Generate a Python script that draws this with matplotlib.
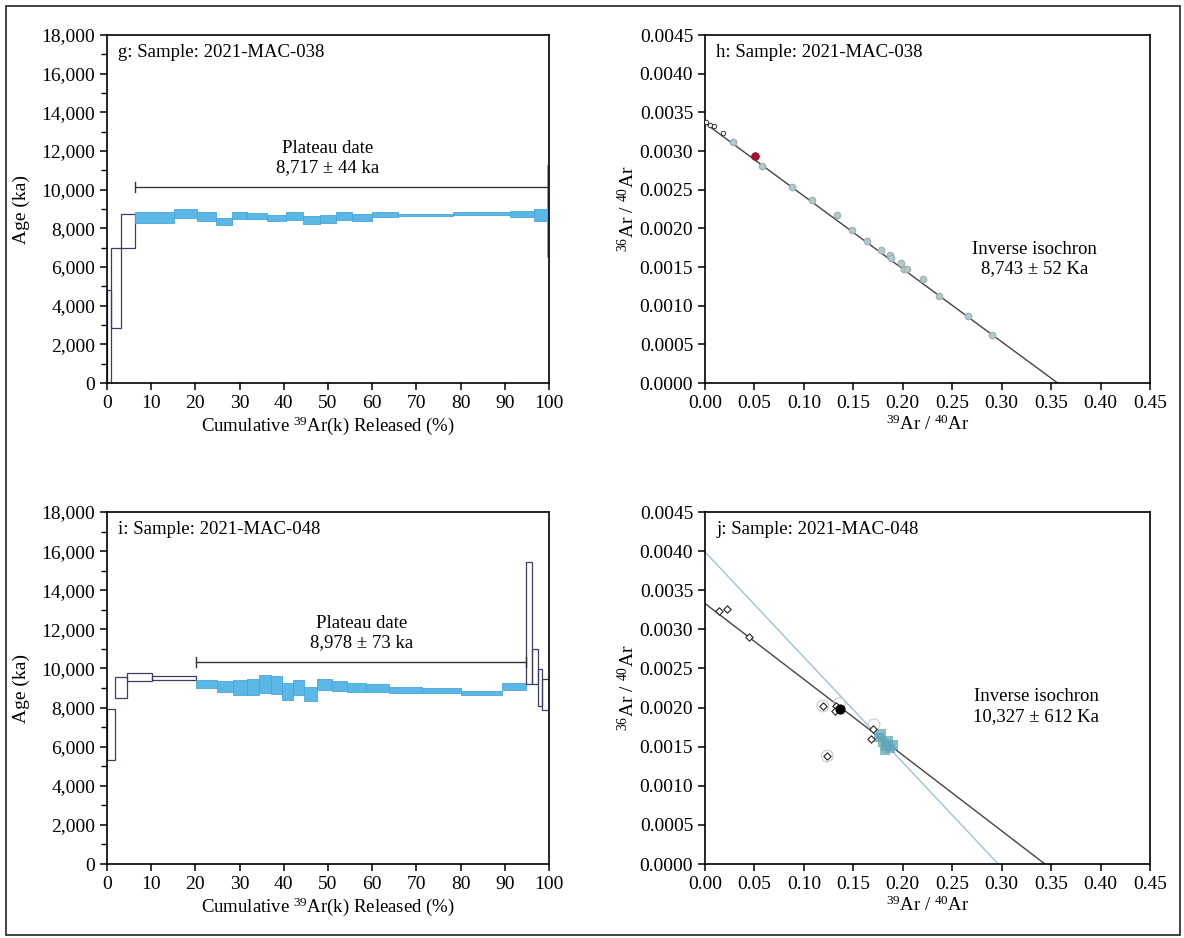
import matplotlib
matplotlib.use("Agg")
import matplotlib.pyplot as plt
from matplotlib.patches import Rectangle
import numpy as np

plt.rcParams['font.family'] = ['Liberation Serif', 'DejaVu Serif']
plt.rcParams['mathtext.fontset'] = 'custom'
plt.rcParams['mathtext.rm'] = 'Liberation Serif'
plt.rcParams['font.size'] = 13

# ---------------- Data ----------------
# Panel g: 2021-MAC-038 age spectrum (cumulative % edges, age low/high in ka)
g_left = [0.0, 1.0, 3.1, 6.3, 15.2, 20.3, 24.6, 28.2, 31.7, 36.1, 40.4, 44.3, 48.2, 51.7, 55.5, 59.9, 65.9, 78.3, 91.2, 96.7, 99.5]
g_right = [1.0, 3.1, 6.3, 15.2, 20.3, 24.6, 28.2, 31.7, 36.1, 40.4, 44.3, 48.2, 51.7, 55.5, 59.9, 65.9, 78.3, 91.2, 96.7, 99.5, 100.0]
g_lo = [0, 2860, 6960, 8290, 8550, 8360, 8150, 8480, 8460, 8360, 8420, 8230, 8300, 8450, 8380, 8580, 8640, 8700, 8600, 8400, 6500]
g_hi = [4800, 6960, 8720, 8825, 8980, 8825, 8550, 8860, 8800, 8700, 8830, 8650, 8700, 8850, 8740, 8860, 8760, 8820, 8880, 9000, 11300]
g_plateau = [False, False, False] + [True] * 18
g_plateau_range = [6.3, 100.0]
g_plateau_level = 10150
g_text = "Plateau date\n8,717 \u00b1 44 ka"

# Panel i: 2021-MAC-048 age spectrum
i_left = [0.0, 1.9, 4.6, 10.1, 20.1, 24.8, 28.6, 31.6, 34.5, 37.1, 39.5, 42.0, 44.6, 47.6, 50.8, 54.2, 58.6, 63.8, 71.2, 80.2, 89.3, 94.9, 96.1, 97.4, 98.5]
i_right = [1.9, 4.6, 10.1, 20.1, 24.8, 28.6, 31.6, 34.5, 37.1, 39.5, 42.0, 44.6, 47.6, 50.8, 54.2, 58.6, 63.8, 71.2, 80.2, 89.3, 94.9, 96.1, 97.4, 98.5, 100.0]
i_lo = [5300, 8510, 9370, 9400, 8980, 8800, 8640, 8640, 8750, 8690, 8380, 8640, 8330, 8890, 8850, 8800, 8770, 8750, 8720, 8640, 8890, 9230, 9230, 8090, 7870]
i_hi = [7950, 9570, 9790, 9620, 9400, 9350, 9400, 9450, 9690, 9600, 9280, 9400, 9060, 9450, 9350, 9280, 9230, 9060, 8980, 8850, 9260, 15450, 10990, 9990, 9450]
i_plateau = [False] * 4 + [True] * 17 + [False] * 4
i_plateau_range = [20.1, 94.9]
i_plateau_level = 10330
i_text = "Plateau date\n8,978 \u00b1 73 ka"

# Panel h: inverse isochron 2021-MAC-038
h_x_excl = [0.001, 0.005, 0.009, 0.018]
h_y_excl = [0.00338, 0.00334, 0.00332, 0.00323]
h_x = [0.028, 0.0576, 0.088, 0.1077, 0.133, 0.149, 0.164, 0.178, 0.187, 0.188, 0.198, 0.201, 0.204, 0.220, 0.237, 0.266, 0.290]
h_y = [0.00311, 0.00281, 0.00254, 0.00237, 0.00217, 0.00198, 0.00184, 0.00172, 0.00165, 0.00161, 0.00155, 0.00148, 0.00147, 0.00134, 0.00112, 0.00086, 0.00062]
h_red = [0.0508, 0.00293]
h_line_int = 0.00336
h_line_xint = 0.3566
h_text = "Inverse isochron\n8,743 \u00b1 52 Ka"

# Panel j: inverse isochron 2021-MAC-048
j_x_open = [0.0142, 0.0227, 0.044, 0.1192, 0.132, 0.1315, 0.1236, 0.170, 0.1676]
j_y_open = [0.00323, 0.00326, 0.00290, 0.00202, 0.00202, 0.00195, 0.00138, 0.00172, 0.00160]
j_x_ell = [0.1192, 0.1236, 0.136, 0.171]
j_y_ell = [0.00202, 0.00138, 0.00205, 0.00178]
j_black = [0.1365, 0.00198]
j_x_cl = [0.176, 0.180, 0.183, 0.185, 0.187, 0.190, 0.182, 0.178]
j_y_cl = [0.00162, 0.00155, 0.00150, 0.00158, 0.00148, 0.00152, 0.00145, 0.00166]
j_line1 = [0.00333, 0.3437]
j_line2 = [0.00399, 0.2965]
j_text = "Inverse isochron\n10,327 \u00b1 612 Ka"

pct_ticks = [0, 10, 20, 30, 40, 50, 60, 70, 80, 90, 100]
age_ticks = [0, 2000, 4000, 6000, 8000, 10000, 12000, 14000, 16000, 18000]
ratio_xticks = [0.0, 0.05, 0.10, 0.15, 0.20, 0.25, 0.30, 0.35, 0.40, 0.45]
ratio_yticks = [0.0, 0.0005, 0.0010, 0.0015, 0.0020, 0.0025, 0.0030, 0.0035, 0.0040, 0.0045]

W, H = 1184, 938
fig = plt.figure(figsize=(W / 100, H / 100), dpi=100)


def ax_px(l, t, r, b):
    return fig.add_axes([l / W, 1 - b / H, (r - l) / W, (b - t) / H])


def style(ax):
    for s in ax.spines.values():
        s.set_linewidth(1.2)
        s.set_color('black')
    ax.tick_params(direction='out', length=5, width=1.1, labelsize=14)
    ax.tick_params(which='minor', direction='out', length=4, width=1.0)


def spectrum(ax, left, right, lo, hi, plat, prange, plevel, txt, tx, title):
    for l, r, a, b, p in zip(left, right, lo, hi, plat):
        if p:
            ax.add_patch(Rectangle((l, a), r - l, b - a, facecolor='#5bb7e6',
                                   edgecolor='#4aa6d8', linewidth=0.6, zorder=2))
        else:
            ax.add_patch(Rectangle((l, a), r - l, b - a, facecolor='none',
                                   edgecolor='#3c3c64', linewidth=0.9, zorder=2))
    ax.plot(prange, [plevel, plevel], color='#333333', lw=1.0)
    ax.plot([prange[0], prange[0]], [plevel - 250, plevel + 250], color='#333333', lw=1.0)
    ax.plot([prange[1], prange[1]], [plevel - 250, plevel + 250], color='#333333', lw=1.0)
    ax.text(tx, plevel + 550, txt, ha='center', va='bottom', fontsize=13.5, linespacing=1.15)
    ax.set_xlim(0, 100)
    ax.set_ylim(0, 18000)
    ax.set_xticks(pct_ticks)
    ax.set_yticks(age_ticks)
    ax.set_yticklabels([f"{v:,}" for v in age_ticks])
    ax.set_yticks(np.arange(1000, 18000, 2000), minor=True)
    ax.set_xlabel(r'Cumulative $\mathregular{^{39}}$Ar(k) Released (%)', fontsize=13.5, labelpad=2)
    ax.set_ylabel('Age (ka)', fontsize=14, labelpad=8)
    ax.text(0.025, 0.975, title, transform=ax.transAxes, ha='left', va='top', fontsize=13.5)
    style(ax)


def iso_axes(ax, title):
    ax.set_xlim(0, 0.45)
    ax.set_ylim(0, 0.0045)
    ax.set_xticks(ratio_xticks)
    ax.set_xticklabels([f"{v:.2f}" for v in ratio_xticks])
    ax.set_yticks(ratio_yticks)
    ax.set_yticklabels([f"{v:.4f}" for v in ratio_yticks])
    ax.set_xlabel(r'$\mathregular{^{39}}$Ar / $\mathregular{^{40}}$Ar', fontsize=13.5, labelpad=2)
    ax.set_ylabel(r'$\mathregular{^{36}}$Ar / $\mathregular{^{40}}$Ar', fontsize=14, labelpad=1)
    ax.text(0.025, 0.975, title, transform=ax.transAxes, ha='left', va='top', fontsize=13.5)
    style(ax)


# g
axg = ax_px(107, 35, 549, 383)
spectrum(axg, g_left, g_right, g_lo, g_hi, g_plateau, g_plateau_range, g_plateau_level,
         g_text, 50.0, 'g: Sample: 2021-MAC-038')

# i
axi = ax_px(107, 512, 549, 864)
spectrum(axi, i_left, i_right, i_lo, i_hi, i_plateau, i_plateau_range, i_plateau_level,
         i_text, 57.5, 'i: Sample: 2021-MAC-048')

# h
axh = ax_px(705, 35, 1150, 383)
iso_axes(axh, 'h: Sample: 2021-MAC-038')
axh.plot([0, h_line_xint], [h_line_int, 0], color='#444444', lw=1.0, zorder=1)
axh.scatter(h_x, h_y, s=22, facecolor='#b3c9cb', edgecolor='#98aeb2', linewidths=0.8, zorder=3)
axh.scatter(h_x_excl, h_y_excl, s=10, facecolor='white', edgecolor='#333333', linewidths=0.7, zorder=3)
axh.scatter([h_red[0]], [h_red[1]], s=30, facecolor='#b0102a', edgecolor='#7a0a1c', linewidths=0.6, zorder=4)
axh.text(0.333, 0.00160, h_text, ha='center', va='center', fontsize=13.5, linespacing=1.2)

# j
axj = ax_px(705, 512, 1150, 864)
iso_axes(axj, 'j: Sample: 2021-MAC-048')
axj.plot([0, j_line1[1]], [j_line1[0], 0], color='#444444', lw=1.0, zorder=1)
axj.plot([0, j_line2[1]], [j_line2[0], 0], color='#9fc3d3', lw=1.0, zorder=1)
axj.scatter(j_x_ell, j_y_ell, s=70, facecolor='none', edgecolor='#c8c8c8', linewidths=0.8, zorder=2)
axj.scatter(j_x_cl, j_y_cl, s=45, marker='s', facecolor='#5fa6b8', edgecolor='none', alpha=0.75, zorder=3)
axj.scatter(j_x_open, j_y_open, s=14, marker='D', facecolor='white', edgecolor='#222222', linewidths=0.8, zorder=4)
axj.scatter([j_black[0]], [j_black[1]], s=40, facecolor='black', edgecolor='black', zorder=5)
axj.text(0.335, 0.00201, j_text, ha='center', va='center', fontsize=13.5, linespacing=1.2)

# outer frame
fig.add_artist(Rectangle((6 / W, 3 / H), 1 - 10 / W, 1 - 9 / H, transform=fig.transFigure,
                         facecolor='none', edgecolor='#222222', linewidth=1.2))

fig.savefig('out.png', dpi=100)
